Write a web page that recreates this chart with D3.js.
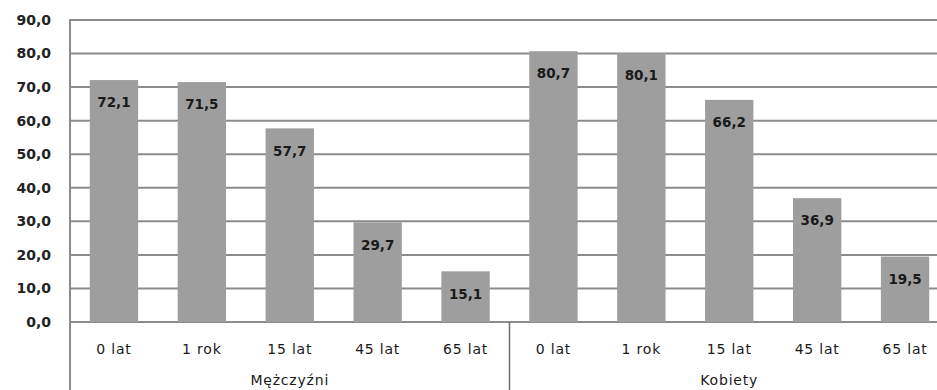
<!DOCTYPE html>
<html>
<head>
<meta charset="utf-8">
<script src="https://cdn.jsdelivr.net/npm/d3@7/dist/d3.min.js"></script>
<style>
  html, body { margin: 0; padding: 0; background: #fff; }
  svg { display: block; }
</style>
</head>
<body>
<svg id="chart" width="937" height="390"></svg>
<script>
// Dalsze trwanie życia według wieku i płci
const groups = ["Mężczyźni", "Kobiety"];
const ages = ["0 lat", "1 rok", "15 lat", "45 lat", "65 lat"];
const menValues = [72.1, 71.5, 57.7, 29.7, 15.1];
const womenValues = [80.7, 80.1, 66.2, 36.9, 19.5];
const yTicks = [0, 10, 20, 30, 40, 50, 60, 70, 80, 90];

const rows = [];
groups.forEach((g, gi) => {
  const vals = gi === 0 ? menValues : womenValues;
  ages.forEach((a, i) => rows.push({ group: g, age: a, key: g + "|" + a, value: vals[i] }));
});

const svg = d3.select("#chart");
const plotLeft = 70, plotTop = 20, plotBottom = 322, plotRight = 949;

const x = d3.scaleBand().domain(rows.map(d => d.key)).range([plotLeft, plotRight])
  .paddingInner(0.45).paddingOuter(0.225);
const y = d3.scaleLinear().domain([0, 90]).range([plotBottom, plotTop]);
const fmt = v => d3.format(".1f")(v).replace(".", ",");

const gridColor = "#8c8c8c";
const font = "'DejaVu Sans', Verdana, sans-serif";

// horizontal gridlines
svg.append("g").selectAll("line").data(yTicks).join("line")
  .attr("x1", plotLeft).attr("x2", plotRight)
  .attr("y1", d => y(d)).attr("y2", d => y(d))
  .attr("stroke", gridColor).attr("stroke-width", 2);

// y tick labels
svg.append("g").selectAll("text").data(yTicks).join("text")
  .attr("x", 51).attr("y", d => y(d)).attr("dy", "0.35em")
  .attr("text-anchor", "end")
  .attr("font-family", font).attr("font-size", 14).attr("font-weight", "bold")
  .attr("fill", "#222")
  .text(fmt);

// bars
svg.append("g").selectAll("rect").data(rows).join("rect")
  .attr("x", d => x(d.key)).attr("width", x.bandwidth())
  .attr("y", d => y(d.value)).attr("height", d => y(0) - y(d.value))
  .attr("fill", "#9e9e9e");

// value labels inside bars
svg.append("g").selectAll("text").data(rows).join("text")
  .attr("x", d => x(d.key) + x.bandwidth() / 2)
  .attr("y", d => y(d.value) + 22.5).attr("dy", "0.35em")
  .attr("text-anchor", "middle")
  .attr("font-family", font).attr("font-size", 13.5).attr("font-weight", "bold")
  .attr("fill", "#1a1a1a")
  .text(d => fmt(d.value));

// left axis line
svg.append("line").attr("x1", plotLeft).attr("x2", plotLeft).attr("y1", plotTop - 1).attr("y2", 390)
  .attr("stroke", gridColor).attr("stroke-width", 2);

// group divider below the baseline
const step = x.step();
const divX = plotLeft + step * ages.length;
svg.append("line").attr("x1", divX).attr("x2", divX).attr("y1", plotBottom).attr("y2", 390)
  .attr("stroke", "#6e6e6e").attr("stroke-width", 1.5);

// category labels
svg.append("g").selectAll("text").data(rows).join("text")
  .attr("x", d => x(d.key) + x.bandwidth() / 2)
  .attr("y", 349).attr("dy", "0.35em")
  .attr("text-anchor", "middle")
  .attr("font-family", font).attr("font-size", 14).attr("letter-spacing", 0.8)
  .attr("fill", "#1a1a1a")
  .text(d => d.age);

// group labels
svg.append("g").selectAll("text").data(groups).join("text")
  .attr("x", (d, i) => plotLeft + step * ages.length * (i + 0.5))
  .attr("y", 380).attr("dy", "0.35em")
  .attr("text-anchor", "middle")
  .attr("font-family", font).attr("font-size", 14).attr("letter-spacing", 0.8)
  .attr("fill", "#1a1a1a")
  .text(d => d);
</script>
</body>
</html>
